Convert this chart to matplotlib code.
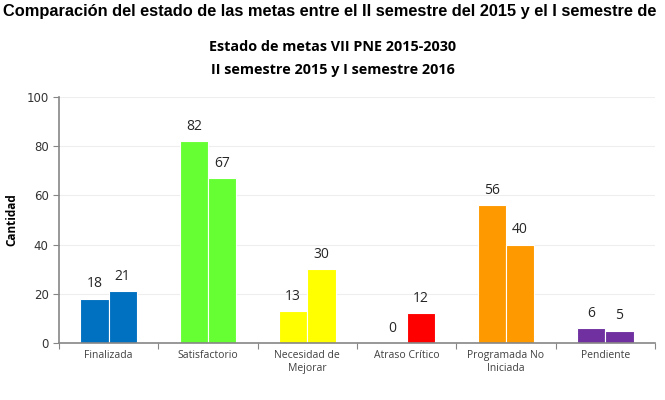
import numpy as np
import matplotlib.pyplot as plt

categorias = ['Finalizada', 'Satisfactorio', 'Necesidad de\nMejorar', 'Atraso Crítico',
              'Programada No\nIniciada', 'Pendiente']
sem_2015 = [18, 82, 13, 0, 56, 6]
sem_2016 = [21, 67, 30, 12, 40, 5]
colores = ['#0070C0', '#66FF33', '#FFFF00', '#FF0000', '#FF9900', '#7030A0']

fig = plt.figure(figsize=(6.65, 4.0), dpi=100)
ax = fig.add_axes([0.0887, 0.1425, 0.8963, 0.615])

x = np.arange(len(categorias))
w = 0.285
ax.bar(x - w / 2, sem_2015, w, color=colores, edgecolor='white', linewidth=0.8)
ax.bar(x + w / 2, sem_2016, w, color=colores, edgecolor='white', linewidth=0.8)

for i in range(len(categorias)):
    ax.text(x[i] - w / 2, sem_2015[i] + 3, str(sem_2015[i]), ha='center', va='bottom',
            fontsize=10, color='#262626', family='Open Sans')
    ax.text(x[i] + w / 2, sem_2016[i] + 3, str(sem_2016[i]), ha='center', va='bottom',
            fontsize=10, color='#262626', family='Open Sans')

ax.set_xlim(-0.5, len(categorias) - 0.5)
ax.set_ylim(0, 100)
ax.set_yticks(range(0, 101, 20))
ax.set_xticks(np.arange(-0.5, len(categorias), 1.0), minor=False)
ax.set_xticklabels([])
ax.set_xticks(x, minor=True)
ax.set_xticklabels(categorias, minor=True, fontsize=7.5, color='#404040', family='Open Sans')
ax.tick_params(axis='x', which='minor', length=0, pad=5)
ax.tick_params(axis='x', which='major', length=4, color='#868686', direction='out')
ax.tick_params(axis='y', length=4, color='#868686', labelsize=8.5, labelcolor='#333333')
ax.grid(axis='y', color='#EEEEEE', linewidth=0.8)
ax.set_axisbelow(True)
for s in ['top', 'right']:
    ax.spines[s].set_visible(False)
ax.spines['left'].set_color('#868686')
ax.spines['bottom'].set_color('#868686')
ax.spines['left'].set_linewidth(1.2)
ax.spines['bottom'].set_linewidth(1.2)
ax.set_ylabel('Cantidad', fontsize=8.5, fontweight='bold', family='Open Sans', labelpad=6)

fig.text(0.005, 0.972, 'Comparación del estado de las metas entre el II semestre del 2015 y el I semestre de',
         fontsize=11.8, fontweight='bold', family='Liberation Sans', va='center', ha='left')
fig.text(0.5, 0.882, 'Estado de metas VII PNE 2015-2030', fontsize=10.4, fontweight='bold',
         family='Open Sans', ha='center', va='center')
fig.text(0.5, 0.824, 'II semestre 2015 y I semestre 2016', fontsize=10.4, fontweight='bold',
         family='Open Sans', ha='center', va='center')

fig.savefig('out.png', dpi=100)
